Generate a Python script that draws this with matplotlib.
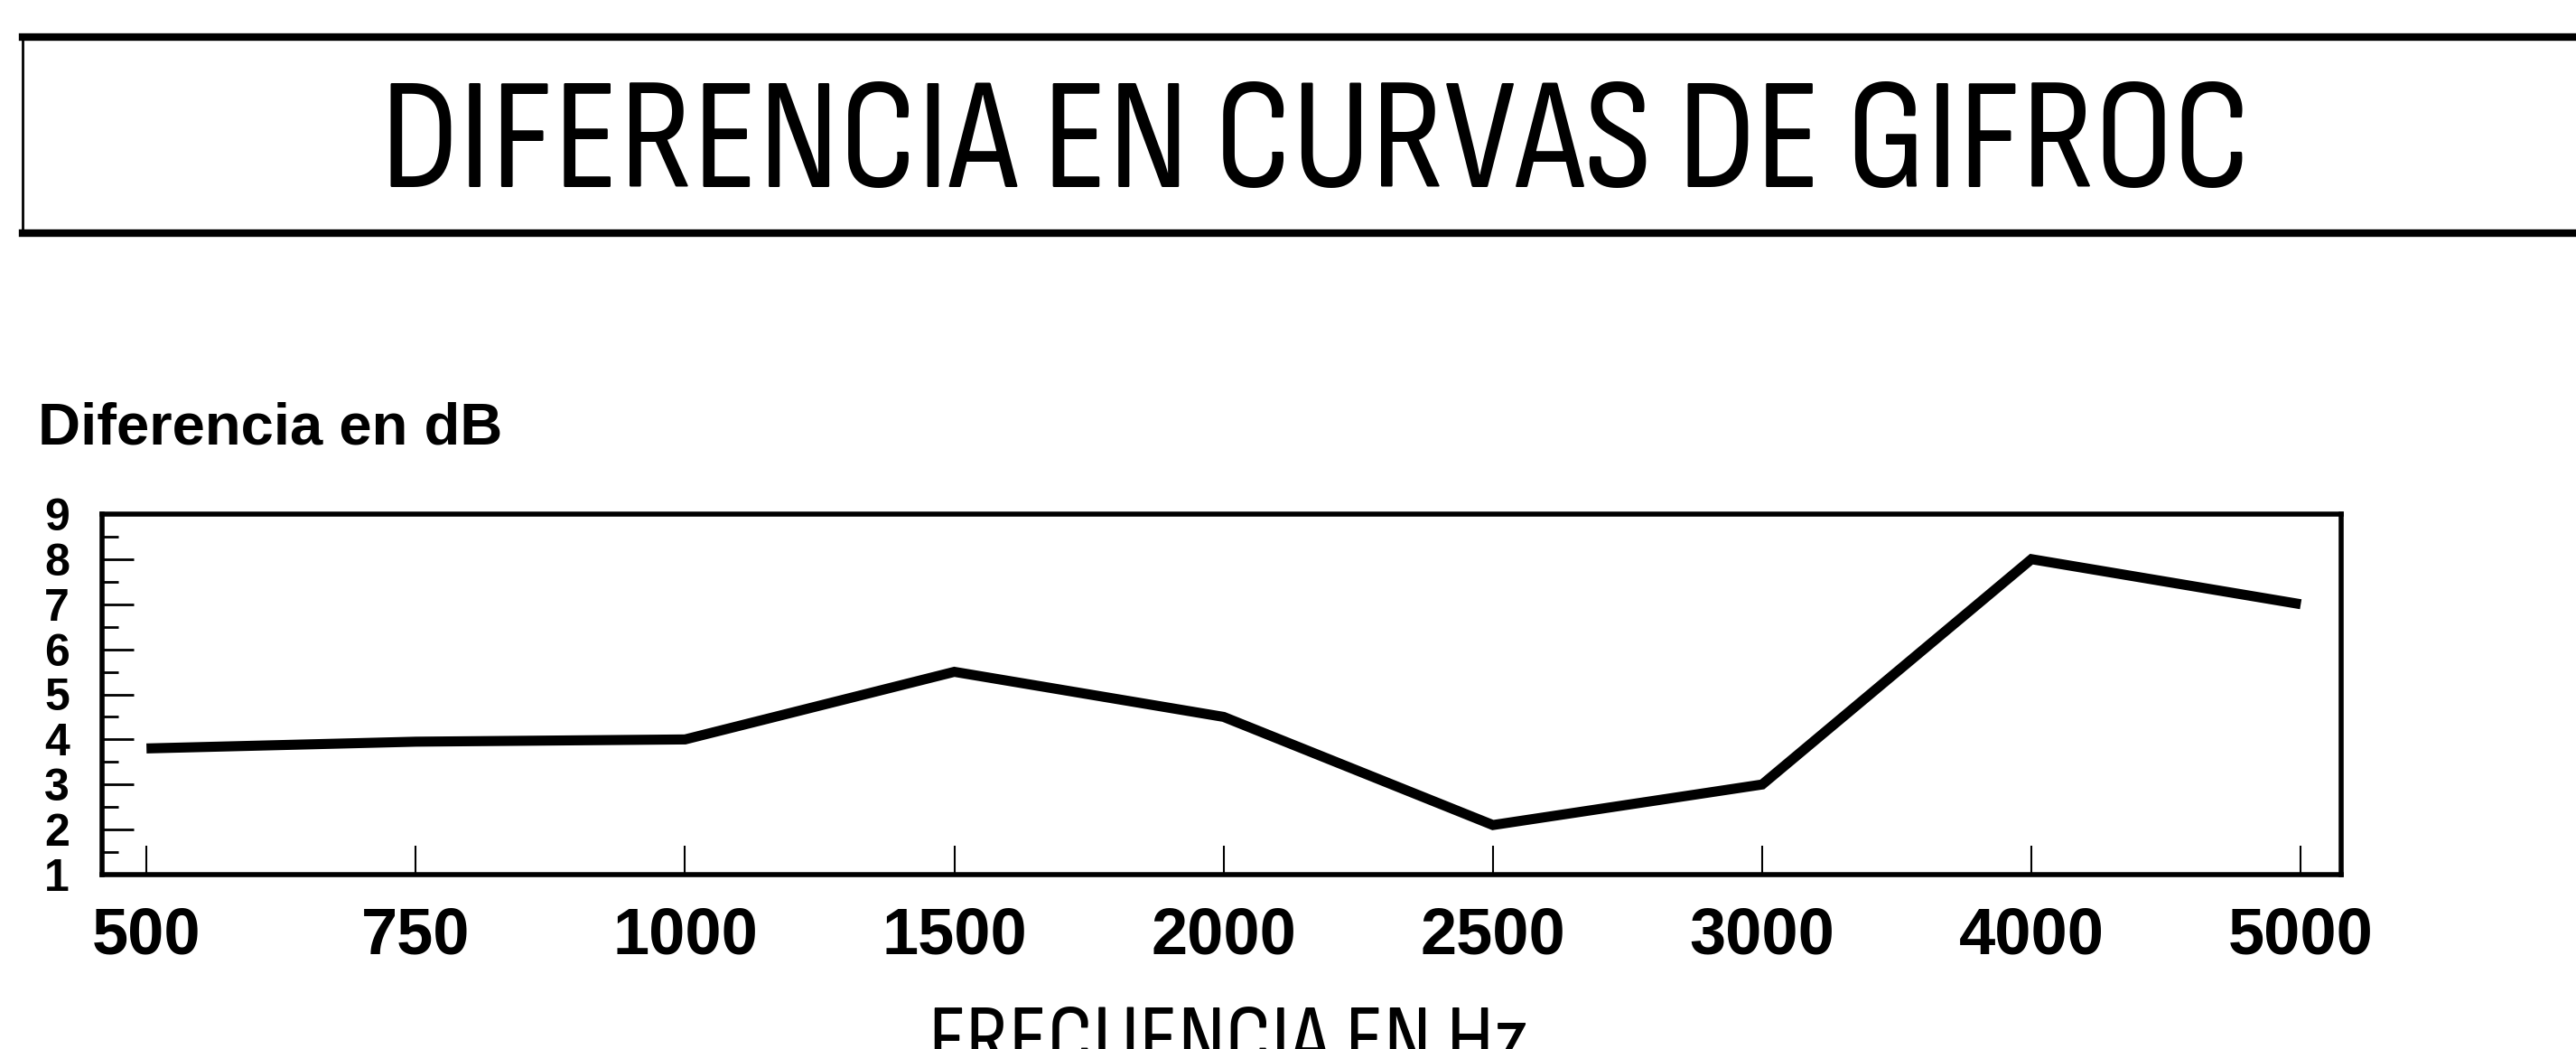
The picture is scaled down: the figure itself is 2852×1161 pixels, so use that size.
import matplotlib
matplotlib.use('Agg')
import matplotlib.pyplot as plt
from matplotlib.lines import Line2D
from matplotlib.ticker import MultipleLocator

# datos
frecuencias = ['500', '750', '1000', '1500', '2000', '2500', '3000', '4000', '5000']
diferencia_db = [3.8, 3.95, 4.0, 5.5, 4.5, 2.1, 3.0, 8.0, 7.0]
y_ticks = [1, 2, 3, 4, 5, 6, 7, 8, 9]

titulo = 'DIFERENCIA EN CURVAS DE GIFROC'
etiqueta_y = 'Diferencia en dB'
etiqueta_x = 'FRECUENCIA EN Hz'

plt.rcParams['font.family'] = ['Liberation Sans', 'DejaVu Sans']
estrecha = ['Sofia Sans Condensed', 'Liberation Sans', 'DejaVu Sans']

W, H = 2852, 1161
fig = plt.figure(figsize=(W / 100, H / 100), dpi=100)

# recuadro del titulo (sale por la derecha)
fig.add_artist(Line2D([25 / W, 1.01], [1 - 41 / H, 1 - 41 / H], color='black', lw=6))
fig.add_artist(Line2D([25 / W, 1.01], [1 - 258 / H, 1 - 258 / H], color='black', lw=6))
fig.add_artist(Line2D([25 / W, 25 / W], [1 - 41 / H, 1 - 258 / H], color='black', lw=2))
t_titulo = fig.text(1456 / W, 1 - 207 / H, titulo, ha='center', va='baseline',
                    fontsize=100, family=estrecha, fontweight='bold')

ax = fig.add_axes([113 / W, 1 - 968 / H, (2592 - 113) / W, (968 - 569) / H])

x = list(range(len(frecuencias)))
ax.plot(x, diferencia_db, color='black', lw=8, solid_joinstyle='miter', solid_capstyle='butt')

ax.set_xlim(-0.165, 8.15)
ax.set_ylim(1, 9)
ax.set_xticks(x)
ax.set_xticklabels(frecuencias, fontsize=52, fontweight='bold')
ax.set_yticks(y_ticks)
ax.set_yticklabels([str(v) for v in y_ticks], fontsize=36, fontweight='bold')
ax.yaxis.set_minor_locator(MultipleLocator(0.5))

ax.tick_params(axis='x', direction='in', length=23, width=1.5, pad=25)
ax.tick_params(axis='y', which='major', direction='in', length=25, width=2, pad=26)
ax.tick_params(axis='y', which='minor', direction='in', length=13, width=2)

for s in ax.spines.values():
    s.set_linewidth(4)

fig.text(42 / W, 1 - 492 / H, etiqueta_y, ha='left', va='baseline', fontsize=47, fontweight='bold')
t_x = fig.text(1360 / W, 1 - 1112 / H, etiqueta_x, ha='center', va='top', fontsize=50, family=estrecha)

# ajustar el ancho de los textos estrechos al de la referencia
fig.canvas.draw()
r = fig.canvas.get_renderer()
for t, ancho in ((t_titulo, 2070), (t_x, 663)):
    w = t.get_window_extent(r).width
    t.set_fontsize(t.get_fontsize() * ancho / w)

fig.savefig('out.png', dpi=100)
